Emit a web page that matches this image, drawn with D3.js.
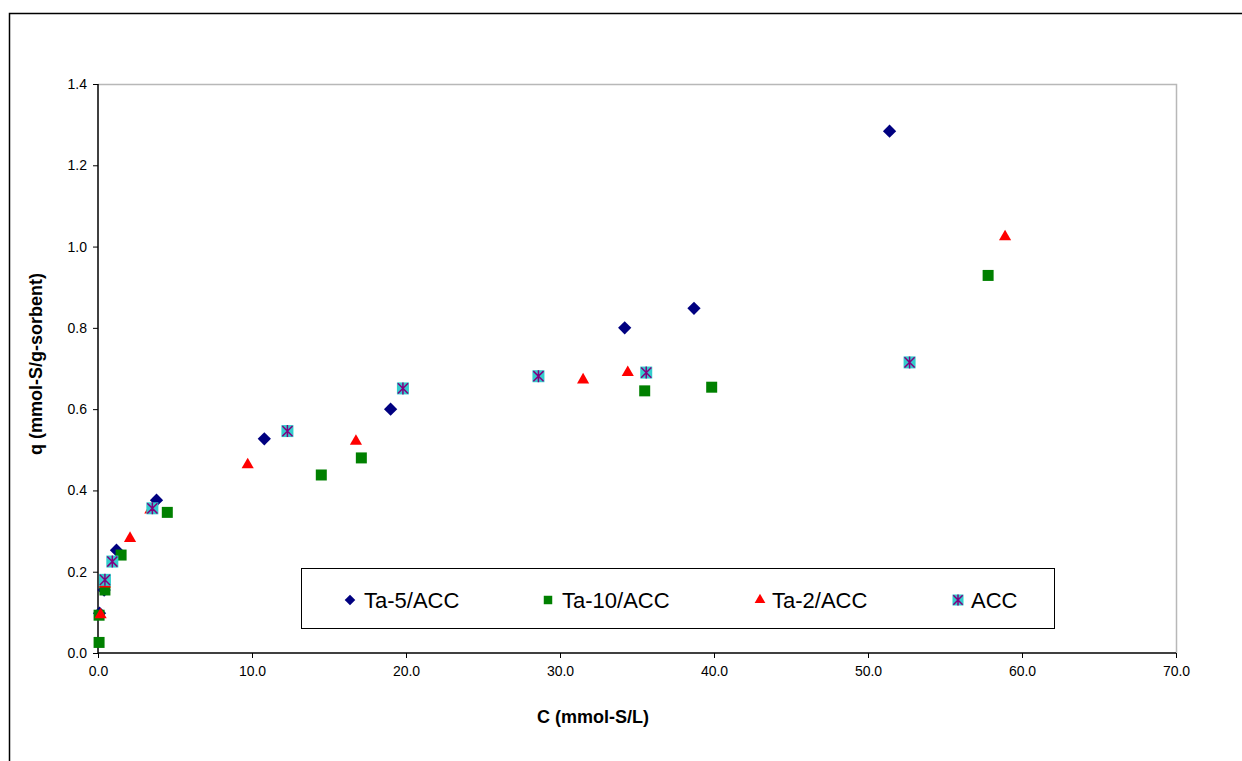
<!DOCTYPE html>
<html>
<head>
<meta charset="utf-8">
<script src="https://cdn.jsdelivr.net/npm/d3@7"></script>
<style>
  html, body { margin: 0; padding: 0; background: #fff; }
  svg { display: block; }
  text { font-family: "Liberation Sans", Arial, sans-serif; fill: #000; }
</style>
</head>
<body>
<svg id="chart" width="1242" height="761"></svg>
<script>
// Sorption isotherms: C (mmol-S/L) vs q (mmol-S/g-sorbent)
const ta5C  = [0.1, 0.4, 1.2, 3.8, 10.8, 19.0, 34.2, 38.7, 51.4];
const ta5Q  = [0.098, 0.155, 0.253, 0.376, 0.527, 0.600, 0.800, 0.848, 1.284];

const ta10C = [0.07, 0.07, 0.45, 1.5, 4.5, 14.5, 17.1, 35.5, 39.85, 57.8];
const ta10Q = [0.026, 0.093, 0.155, 0.241, 0.346, 0.438, 0.480, 0.645, 0.654, 0.929];

const ta2C  = [0.17, 0.45, 2.08, 3.4, 9.72, 16.75, 31.5, 34.4, 58.9];
const ta2Q  = [0.094, 0.170, 0.282, 0.352, 0.463, 0.521, 0.672, 0.690, 1.024];

const accC  = [0.45, 0.93, 3.53, 12.3, 19.8, 28.6, 35.6, 52.7];
const accQ  = [0.180, 0.225, 0.356, 0.546, 0.651, 0.681, 0.690, 0.715];

const xTicks = [0, 10, 20, 30, 40, 50, 60, 70];
const yTicks = [0, 0.2, 0.4, 0.6, 0.8, 1.0, 1.2, 1.4];

const seriesNames = ["Ta-5/ACC", "Ta-10/ACC", "Ta-2/ACC", "ACC"];

const svg = d3.select("#chart");
const plot = { left: 98, right: 1176, top: 84, bottom: 653 };

const x = d3.scaleLinear().domain([0, 70]).range([plot.left, plot.right]);
const y = d3.scaleLinear().domain([0, 1.4]).range([plot.bottom, plot.top]);

// outer chart frame (runs off the right and bottom edges)
svg.append("path")
  .attr("d", "M9.5,800 V13.5 H1300")
  .attr("fill", "none").attr("stroke", "#000").attr("stroke-width", 1.5);

// plot area border (top and right)
svg.append("path")
  .attr("d", `M${plot.left},${plot.top + 0.5} H${plot.right + 0.5} V${plot.bottom}`)
  .attr("fill", "none").attr("stroke", "#b8b8b8").attr("stroke-width", 1.5);

// axes
const xAxis = d3.axisBottom(x).tickValues(xTicks).tickSize(5).tickPadding(8)
  .tickFormat(d3.format(".1f"));
const yAxis = d3.axisLeft(y).tickValues(yTicks).tickSize(5).tickPadding(6)
  .tickFormat(d3.format(".1f"));

const gx = svg.append("g").attr("transform", `translate(0,${plot.bottom})`).call(xAxis);
const gy = svg.append("g").attr("transform", `translate(${plot.left},0)`).call(yAxis);
[gx, gy].forEach(g => {
  g.select(".domain").attr("stroke", "#000").attr("stroke-width", 1.5);
  g.selectAll(".tick line").attr("stroke", "#000").attr("stroke-width", 1);
  g.selectAll("text").style("font-family", "'Liberation Sans', Arial, sans-serif")
    .style("font-size", "14px").attr("fill", "#000");
});
gy.select(".domain").attr("d", `M0,${plot.top}V${plot.bottom}`);
gx.select(".domain").attr("d", `M${plot.left},0H${plot.right}`);

// axis titles
svg.append("text")
  .attr("x", 593).attr("y", 723)
  .attr("text-anchor", "middle")
  .style("font-size", "18px").style("font-weight", "bold")
  .text("C (mmol-S/L)");

svg.append("text")
  .attr("transform", "translate(42,364) rotate(-90)")
  .attr("text-anchor", "middle")
  .style("font-size", "18px").style("font-weight", "bold")
  .text("q (mmol-S/g-sorbent)");

// marker drawing helpers
function diamond(g, size) {
  g.append("path")
    .attr("d", d3.symbol(d3.symbolSquare, size)())
    .attr("transform", "rotate(45)")
    .attr("fill", "#000080");
}
function square(g, size) {
  g.append("path")
    .attr("d", d3.symbol(d3.symbolSquare, size)())
    .attr("fill", "#008000");
}
function triangle(g, size) {
  g.append("path")
    .attr("d", d3.symbol(d3.symbolTriangle, size)())
    .attr("fill", "#ff0000");
}
function starSquare(g, side) {
  const h = side / 2;
  g.append("rect")
    .attr("x", -h).attr("y", -h).attr("width", side).attr("height", side)
    .attr("fill", "#33cccc");
  const s = h * 0.85;
  g.append("path")
    .attr("d", `M${-s},${-s}L${s},${s}M${-s},${s}L${s},${-s}M0,${-h}V${h}`)
    .attr("stroke", "#800080").attr("stroke-width", 1.5).attr("fill", "none");
}

function drawSeries(cs, qs, drawFn, size) {
  const pts = cs.map((c, i) => ({ c, q: qs[i] }));
  svg.append("g").selectAll("g").data(pts).join("g")
    .attr("transform", d => `translate(${x(d.c)},${y(d.q)})`)
    .each(function () { drawFn(d3.select(this), size); });
}

drawSeries(ta5C, ta5Q, diamond, 88);
drawSeries(ta10C, ta10Q, square, 121);
drawSeries(ta2C, ta2Q, triangle, 64);
drawSeries(accC, accQ, starSquare, 12);

// legend
const legend = svg.append("g");
legend.append("rect")
  .attr("x", 301.5).attr("y", 568.5).attr("width", 753).attr("height", 60)
  .attr("fill", "#fff").attr("stroke", "#000").attr("stroke-width", 1);

const legendItems = [
  { name: seriesNames[0], sx: 350, tx: 364, fn: diamond, size: 56 },
  { name: seriesNames[1], sx: 548, tx: 562, fn: square, size: 72 },
  { name: seriesNames[2], sx: 760, tx: 772, fn: triangle, size: 50 },
  { name: seriesNames[3], sx: 958, tx: 971, fn: starSquare, size: 11 }
];
legendItems.forEach(it => {
  const g = legend.append("g").attr("transform", `translate(${it.sx},600)`);
  it.fn(g, it.size);
  legend.append("text")
    .attr("x", it.tx).attr("y", 608)
    .style("font-size", "22px")
    .text(it.name);
});
</script>
</body>
</html>
